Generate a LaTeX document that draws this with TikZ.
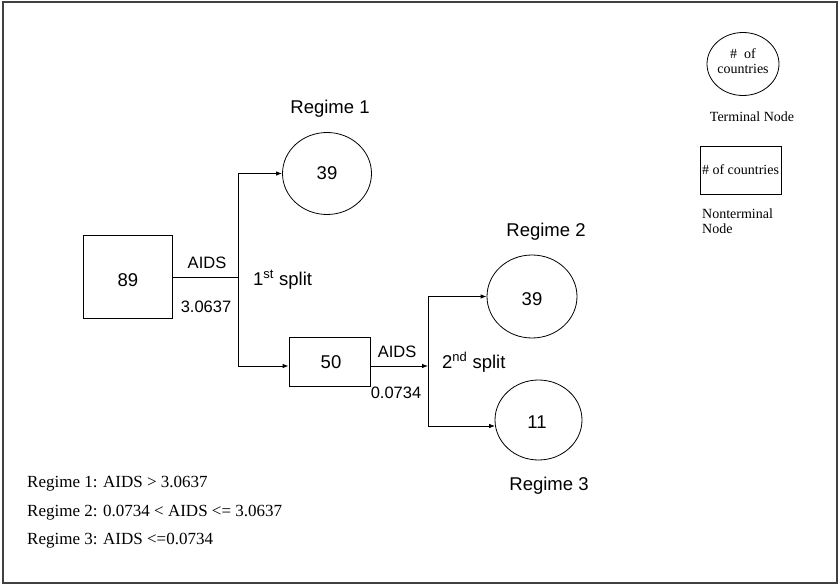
\documentclass[tikz,border=0pt]{standalone}
\usepackage{fontspec}
\setmainfont{Liberation Serif}
\newfontfamily\arialf{Liberation Sans}
\usetikzlibrary{shapes.geometric,arrows.meta}
\begin{document}
\begin{tikzpicture}[x=1pt,y=-1pt,
  line/.style={draw=black,line width=0.8pt},
  arr/.style={line,-{Latex[length=6pt,width=4.5pt]}},
  boxnode/.style={draw=black,line width=0.8pt,rectangle,inner sep=0pt},
  termnode/.style={draw=black,line width=0.8pt,ellipse,inner sep=0pt},
  big/.style={font=\arialf\fontsize{18.5}{21}\selectfont,inner sep=0pt,anchor=base},
  small/.style={font=\arialf\fontsize{16.5}{19}\selectfont,inner sep=0pt,anchor=base},
  serif/.style={font=\fontsize{17}{19}\selectfont,inner sep=0pt,anchor=base west},
  legend/.style={font=\fontsize{14}{15}\selectfont,inner sep=0pt}
]
\useasboundingbox (0,0) rectangle (840,585);
\draw[black!75,line width=1.5pt] (3,2) rectangle (837,583);

% nonterminal and terminal nodes
\node[boxnode,minimum width=89pt,minimum height=83pt] (b89) at (127.5,277) {};
\node[big] (t89) at (128,287) {89};
\node[termnode,minimum width=89pt,minimum height=82pt] (c1) at (327,173.5) {};
\node[big] (t39a) at (327,180) {39};
\node[boxnode,minimum width=81pt,minimum height=49pt] (b50) at (329.5,361.5) {};
\node[big] (t50) at (331,368) {50};
\node[termnode,minimum width=90pt,minimum height=83pt] (c2) at (532,296.5) {};
\node[big] (t39b) at (532,305) {39};
\node[termnode,minimum width=87pt,minimum height=80pt] (c3) at (538.5,420) {};
\node[big] (t11) at (537,428) {11};

% junctions
\coordinate (j1) at (238,277);
\coordinate (j1t) at (238,173.5);
\coordinate (j1b) at (238,366);
\coordinate (j2) at (428,366);
\coordinate (j2t) at (428,296.5);
\coordinate (j2b) at (428,426);

% connectors
\draw[line] (b89.east |- j1) -- (j1);
\draw[line] (j1t) -- (j1b);
\draw[arr] (j1t) -- (c1.west);
\draw[arr] (j1b) -- (j1b -| b50.west);
\draw[arr] (j1b -| b50.east) -- (j2);
\draw[line] (j2t) -- (j2b);
\draw[arr] (j2t) -- (c2.west);
\draw[arr] (j2b) -- ([xshift=0.5pt]j2b -| c3.west);

% labels
\node[big] (r1) at (330,114) {Regime 1};
\node[big] (r2) at (546,237) {Regime 2};
\node[big] (r3) at (549,490) {Regime 3};
\node[small] (a1) at (207,269) {AIDS};
\node[small] (v1) at (206,312) {3.0637};
\node[big,anchor=base west] (s1) at (253,285) {1\textsuperscript{st} split};
\node[small] (a2) at (397,357) {AIDS};
\node[small] (v2) at (396,398) {0.0734};
\node[big,anchor=base west] (s2) at (442,368) {2\textsuperscript{nd} split};

% legend
\node[termnode,minimum width=72pt,minimum height=63pt] (lc) at (743,64) {};
\node[legend,align=center] (lct) at (743,61) {\#\ \ of\\countries};
\node[legend,anchor=base] (lt) at (752,122) {Terminal Node};
\node[boxnode,minimum width=81pt,minimum height=48pt,legend] (lb) at (740.5,170) {\#\ of countries};
\node[legend,anchor=base west] (ln1) at (702,219) {Nonterminal};
\node[legend,anchor=base west] (ln2) at (702,234) {Node};

% regime definitions
\node[serif] (d1) at (27,487) {Regime 1: AIDS > 3.0637};
\node[serif] (d2) at (27,516) {Regime 2: 0.0734 < AIDS <= 3.0637};
\node[serif] (d3) at (27,544) {Regime 3: AIDS <=0.0734};
\end{tikzpicture}
\end{document}
